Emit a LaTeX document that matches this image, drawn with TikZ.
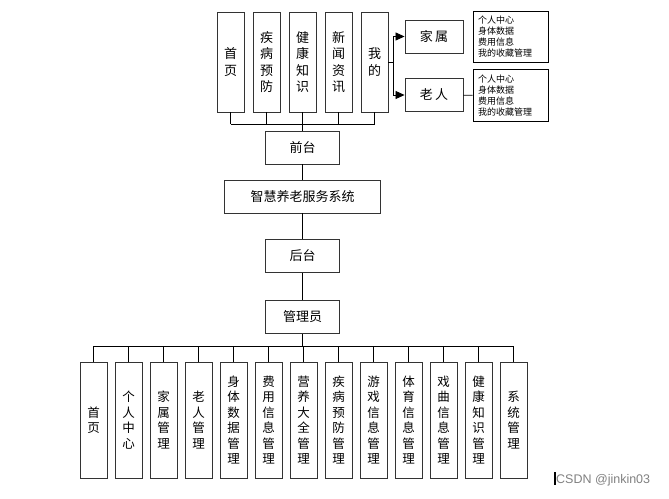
\documentclass[tikz,border=0pt]{standalone}
\usepackage{fontspec}
\setmainfont{Noto Sans CJK SC}
\newfontfamily\wmfont{Liberation Sans}
\usetikzlibrary{positioning,arrows.meta}

\begin{document}
\begin{tikzpicture}[
    x=1pt, y=-1pt,
    tallbox/.style={draw=black!80, line width=0.9pt, minimum width=27pt, inner sep=0pt, align=center, font=\fontsize{12.5}{15.5}\selectfont},
    midbox/.style={draw=black!80, line width=0.9pt, minimum width=74pt, minimum height=33pt, inner sep=0pt, font=\fontsize{13}{15}\selectfont},
    infobox/.style={draw=black, line width=0.8pt, minimum width=75pt, minimum height=49pt, inner sep=5pt, align=left, text width=65pt, font=\fontsize{9}{11}\selectfont},
    link/.style={draw, line width=0.8pt},
    tip/.style={link, -{Triangle[length=9pt,width=8pt]}}
]
\useasboundingbox (0,0) rectangle (669,498);

% Front pages
\foreach \n/\txt [count=\i from 0] in {1/{首\\页}, 2/{疾\\病\\预\\防}, 3/{健\\康\\知\\识}, 4/{新\\闻\\资\\讯}, 5/{我\\的}}
    \node[tallbox, minimum height=100pt, font=\fontsize{13}{16.5}\selectfont] (t\n) at (230.5+36*\i, 62) {\txt};

% Center column
\node[midbox] (qt) at (302.5, 147.5) {前台};
\node[midbox, minimum width=156pt] (sys) at (302.5, 196.5) {智慧养老服务系统};
\node[midbox] (ht) at (302.5, 256) {后台};
\node[midbox] (gly) at (302.5, 317) {管理员};

% User roles
\node[midbox, minimum width=58pt] (js) at (434, 36.5) {家\,属};
\node[midbox, minimum width=58pt] (lr) at (434, 95) {老\,人};
\node[infobox, minimum height=50pt] (i1) at (510.5, 37) {个人中心\\身体数据\\费用信息\\我的收藏管理};
\node[infobox] (i2) at (510.5, 95.5) {个人中心\\身体数据\\费用信息\\我的收藏管理};

% Admin pages
\foreach \n/\txt [count=\i from 0] in {1/{首\\页}, 2/{个\\人\\中\\心}, 3/{家\\属\\管\\理}, 4/{老\\人\\管\\理},
    5/{身\\体\\数\\据\\管\\理}, 6/{费\\用\\信\\息\\管\\理}, 7/{营\\养\\大\\全\\管\\理}, 8/{疾\\病\\预\\防\\管\\理},
    9/{游\\戏\\信\\息\\管\\理}, 10/{体\\育\\信\\息\\管\\理}, 11/{戏\\曲\\信\\息\\管\\理}, 12/{健\\康\\知\\识\\管\\理}, 13/{系\\统\\管\\理}}
    \node[tallbox, minimum height=116pt] (b\n) at (93.5+35*\i, 420) {\txt};

% Connectors
\coordinate (topbus) at (302.5, 124);
\coordinate (botbus) at (302.5, 346);
\coordinate (split) at (393, 62);
\foreach \i in {1,...,5}
    \draw[link] (t\i.south) -- (t\i.south |- topbus);
\draw[link] (t1.south |- topbus) -- (t5.south |- topbus);
\draw[link] (topbus) -- (qt.north);
\draw[link] (qt) -- (sys);
\draw[link] (sys) -- (ht);
\draw[link] (ht) -- (gly);
\draw[link] (gly.south) -- (botbus);
\draw[link] (b1.north |- botbus) -- (b13.north |- botbus);
\foreach \i in {1,...,13}
    \draw[link] (b\i.north |- botbus) -- (b\i.north);
\draw[link] (t5.east |- split) -- (split);
\draw[tip] (split) |- (js.west);
\draw[tip] (split) |- (lr.west);
\draw[link] (lr) -- (i2);

% Watermark
\node[text=black!50, font=\wmfont\fontsize{12.5}{14}\selectfont, anchor=west, inner sep=0pt] (wm) at (556, 480) {CSDN @jinkin03};
\draw[line width=1.2pt] (555, 472) -- (555, 485);
\end{tikzpicture}
\end{document}
